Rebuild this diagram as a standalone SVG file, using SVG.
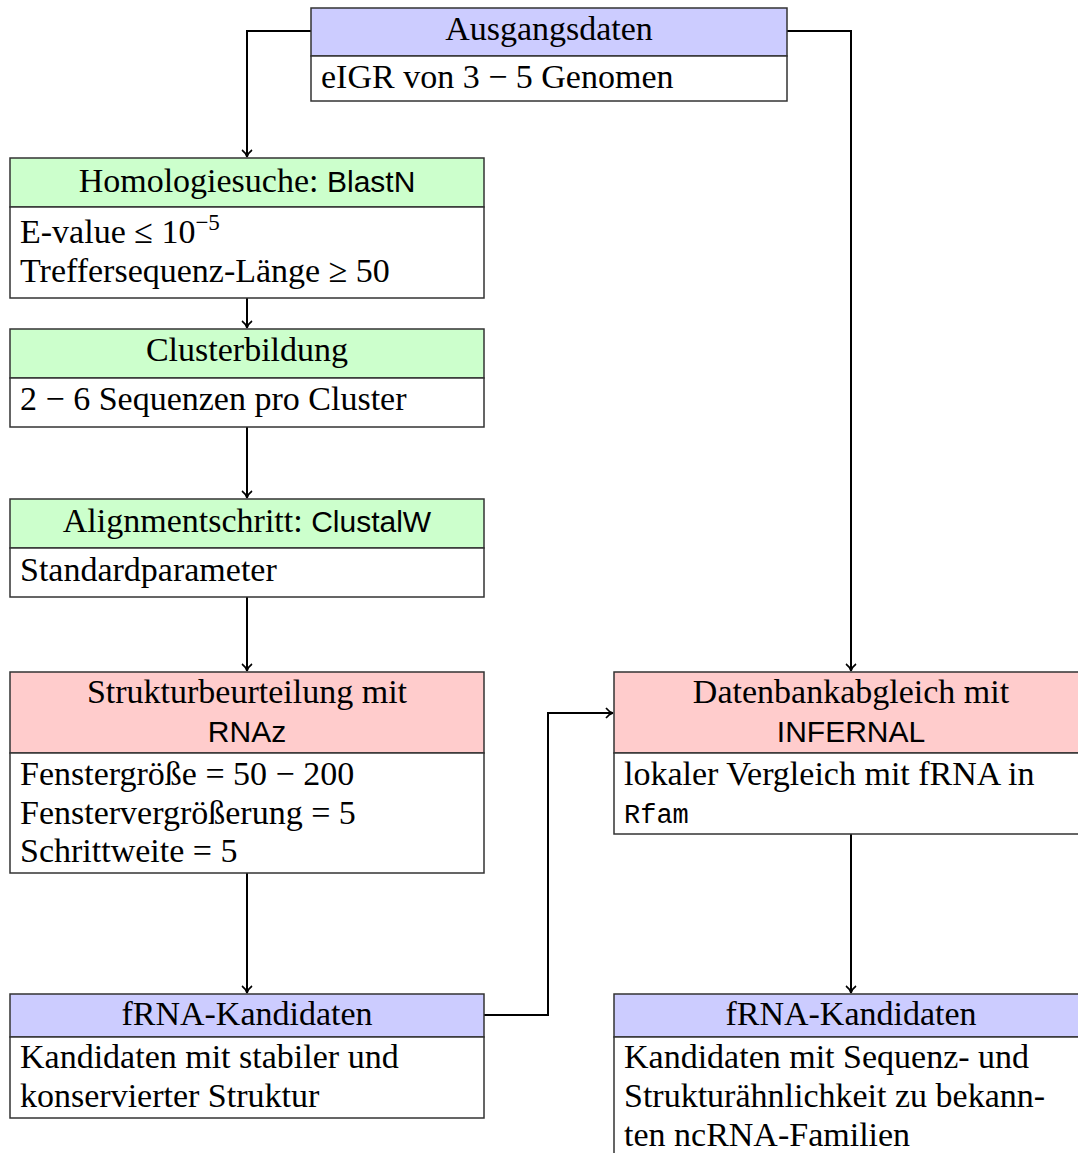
<svg xmlns="http://www.w3.org/2000/svg" width="1078" height="1153" viewBox="0 0 1078 1153">
<style>
.hb{fill:#ccccff;stroke:#333;stroke-width:1.5}
.hg{fill:#ccffcc;stroke:#333;stroke-width:1.5}
.hr{fill:#ffcccc;stroke:#333;stroke-width:1.5}
.bd{fill:#fff;stroke:#333;stroke-width:1.5}
text{font-family:"Liberation Serif","DejaVu Serif",serif;font-size:34px;fill:#000}
.c{text-anchor:middle}
.ss{font-family:"Liberation Sans","DejaVu Sans",sans-serif;font-size:30px}
.tt{font-family:"Liberation Mono","DejaVu Sans Mono",monospace;font-size:27px}
.e{fill:none;stroke:#000;stroke-width:2}
</style>
<defs>
<marker id="ar" markerWidth="12" markerHeight="12" refX="10" refY="6" orient="auto" markerUnits="userSpaceOnUse">
<path d="M3,1 Q6,5 10,6 Q6,7 3,11" fill="none" stroke="#000" stroke-width="1.6"/>
</marker>
</defs>
<rect width="1078" height="1153" fill="#fff"/>
<g id="connectors">
<path class="e" d="M311,31 H247 V157" marker-end="url(#ar)"/>
<path class="e" d="M787,31 H851 V671" marker-end="url(#ar)"/>
<path class="e" d="M247,298 V328" marker-end="url(#ar)"/>
<path class="e" d="M247,427 V498" marker-end="url(#ar)"/>
<path class="e" d="M247,597 V671" marker-end="url(#ar)"/>
<path class="e" d="M247,873 V993" marker-end="url(#ar)"/>
<path class="e" d="M484,1015 H548 V713 H613" marker-end="url(#ar)"/>
<path class="e" d="M851,834 V993" marker-end="url(#ar)"/>
</g>
<g id="ausgangsdaten">
<rect class="hb" x="311" y="8" width="476" height="48"/>
<rect class="bd" x="311" y="56" width="476" height="45"/>
<text class="c" x="549" y="40">Ausgangsdaten</text>
<text x="321" y="88">eIGR von 3 − 5 Genomen</text>
</g>
<g id="homologiesuche">
<rect class="hg" x="10" y="158" width="474" height="49"/>
<rect class="bd" x="10" y="207" width="474" height="91"/>
<text class="c" x="247" y="192">Homologiesuche: <tspan class="ss">BlastN</tspan></text>
<text x="20" y="243">E-value ≤ 10<tspan dy="-13" font-size="23">−5</tspan></text>
<text x="20" y="282">Treffersequenz-Länge ≥ 50</text>
</g>
<g id="clusterbildung">
<rect class="hg" x="10" y="329" width="474" height="49"/>
<rect class="bd" x="10" y="378" width="474" height="49"/>
<text class="c" x="247" y="361">Clusterbildung</text>
<text x="20" y="410">2 − 6 Sequenzen pro Cluster</text>
</g>
<g id="alignment">
<rect class="hg" x="10" y="499" width="474" height="49"/>
<rect class="bd" x="10" y="548" width="474" height="49"/>
<text class="c" x="247" y="532">Alignmentschritt: <tspan class="ss">ClustalW</tspan></text>
<text x="20" y="581">Standardparameter</text>
</g>
<g id="struktur">
<rect class="hr" x="10" y="672" width="474" height="81"/>
<rect class="bd" x="10" y="753" width="474" height="120"/>
<text class="c" x="247" y="703">Strukturbeurteilung mit</text>
<text class="c ss" x="247" y="742">RNAz</text>
<text x="20" y="785">Fenstergröße = 50 − 200</text>
<text x="20" y="824">Fenstervergrößerung = 5</text>
<text x="20" y="862">Schrittweite = 5</text>
</g>
<g id="kandidaten-links">
<rect class="hb" x="10" y="994" width="474" height="43"/>
<rect class="bd" x="10" y="1037" width="474" height="81"/>
<text class="c" x="247" y="1025">fRNA-Kandidaten</text>
<text x="20" y="1068">Kandidaten mit stabiler und</text>
<text x="20" y="1107">konservierter Struktur</text>
</g>
<g id="datenbankabgleich">
<rect class="hr" x="614" y="672" width="474" height="81"/>
<rect class="bd" x="614" y="753" width="474" height="81"/>
<text class="c" x="851" y="703">Datenbankabgleich mit</text>
<text class="c ss" x="851" y="742">INFERNAL</text>
<text x="624" y="785">lokaler Vergleich mit fRNA in</text>
<text class="tt" x="624" y="823">Rfam</text>
</g>
<g id="kandidaten-rechts">
<rect class="hb" x="614" y="994" width="474" height="43"/>
<rect class="bd" x="614" y="1037" width="474" height="130"/>
<text class="c" x="851" y="1025">fRNA-Kandidaten</text>
<text x="624" y="1068">Kandidaten mit Sequenz- und</text>
<text x="624" y="1107">Strukturähnlichkeit zu bekann-</text>
<text x="624" y="1146">ten ncRNA-Familien</text>
</g>
</svg>
